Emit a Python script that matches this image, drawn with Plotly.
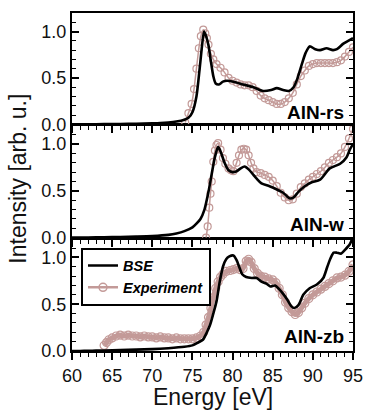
import plotly.graph_objects as go

# ---------------- data ----------------
# AlN-rs (top panel)
E_bse_rs = [60, 62, 64, 66, 68, 70, 71, 72, 73, 74,
            74.5, 75, 75.5, 75.9, 76.2, 76.45, 76.7, 77.0, 77.3, 77.6,
            77.9, 78.3, 78.8, 79.3, 80.1, 81.3, 82.6, 83.8, 84.8, 85.5,
            86.3, 87.0, 87.6, 88.1, 88.6, 89.1, 89.6, 90.3, 90.9, 91.7,
            92.5, 93.0, 93.8, 94.4, 95]
I_bse_rs = [0.0, 0.001, 0.002, 0.004, 0.007, 0.011, 0.014, 0.02, 0.03, 0.05,
            0.07, 0.13, 0.3, 0.6, 0.85, 1.0, 0.95, 0.85, 0.68, 0.52,
            0.44, 0.43, 0.46, 0.47, 0.46, 0.43, 0.40, 0.36, 0.37, 0.39,
            0.37, 0.36, 0.40, 0.50, 0.64, 0.77, 0.84, 0.81, 0.80, 0.82,
            0.80, 0.81, 0.87, 0.90, 0.93]
E_exp_rs = [74.1, 74.5, 74.9, 75.2, 75.5, 75.8, 76.05, 76.35, 76.6, 76.8,
            77.0, 77.3, 77.6, 78.0, 78.5, 79.0, 79.5, 80.0, 80.5, 81.0,
            81.5, 82.0, 82.5, 83.0, 83.5, 84.0, 84.5, 85.0, 85.5, 86.0,
            86.5, 87.0, 87.5, 88.0, 88.5, 89.0, 89.5, 90.0, 90.5, 91.0,
            91.5, 92.0, 92.5, 93.0, 93.5, 94.0, 94.5, 95.0]
I_exp_rs = [0.02, 0.12, 0.22, 0.38, 0.6, 0.82, 0.95, 1.02, 0.98, 0.93,
            0.86, 0.76, 0.70, 0.65, 0.61, 0.56, 0.50, 0.47, 0.45, 0.43,
            0.42, 0.42, 0.40, 0.36, 0.31, 0.28, 0.26, 0.24, 0.22, 0.22,
            0.24, 0.28, 0.34, 0.43, 0.52, 0.58, 0.63, 0.65, 0.66, 0.66,
            0.66, 0.66, 0.66, 0.67, 0.69, 0.73, 0.78, 0.83]

# AlN-w (middle panel)
E_bse_w = [60, 62, 64, 66, 68, 70, 72, 73, 74, 75,
           75.5, 76, 76.5, 77, 77.4, 77.8, 78.2, 78.6, 79.0, 79.5,
           80.0, 80.5, 81.0, 81.5, 82.0, 82.6, 83.0, 83.6, 84.6, 85.4,
           86.3, 87.1, 87.6, 88.2, 89.0, 89.8, 90.9, 92.1, 93.4, 94.2,
           94.6, 95]
I_bse_w = [0.0, 0.002, 0.004, 0.007, 0.011, 0.017, 0.03, 0.045, 0.07, 0.11,
           0.15, 0.2, 0.3, 0.49, 0.68, 0.86, 0.97, 0.90, 0.80, 0.72,
           0.70, 0.71, 0.74, 0.76, 0.73, 0.67, 0.63, 0.58, 0.55, 0.52,
           0.48, 0.42, 0.43, 0.49, 0.55, 0.59, 0.62, 0.74, 0.79, 0.86,
           0.94, 1.0]
E_exp_w = [76.7, 76.9, 77.1, 77.25, 77.4, 77.6, 77.8, 78.0, 78.2, 78.5,
           78.8, 79.1, 79.5, 79.8, 80.1, 80.5, 80.8, 81.1, 81.4, 81.7,
           82.0, 82.3, 82.6, 83.0, 83.5, 84.0, 84.5, 85.0, 85.5, 86.0,
           86.5, 87.0, 87.5, 88.0, 88.5, 89.0, 89.5, 90.0, 90.5, 91.0,
           91.5, 92.0, 92.5, 93.0, 93.5, 94.0, 94.5, 95.0]
I_exp_w = [0.0, 0.12, 0.32, 0.47, 0.6, 0.81, 0.93, 0.99, 1.01, 0.94,
           0.85, 0.79, 0.74, 0.72, 0.71, 0.80, 0.88, 0.94, 0.95, 0.94,
           0.88, 0.80, 0.74, 0.70, 0.69, 0.67, 0.65, 0.61, 0.55, 0.48,
           0.43, 0.40, 0.41, 0.47, 0.54, 0.58, 0.62, 0.65, 0.68, 0.71,
           0.75, 0.80, 0.83, 0.86, 0.90, 0.97, 1.06, 1.16]

# AlN-zb (bottom panel)
E_bse_zb = [60, 61, 62, 63, 64, 66, 68, 70, 72, 74,
            75, 75.7, 76.3, 76.8, 77.2, 77.6, 78.0, 78.4, 78.8, 79.2,
            79.6, 80.1, 80.5, 80.9, 81.2, 81.7, 82.4, 83.0, 83.6, 84.2,
            84.7, 85.3, 85.8, 86.3, 86.8, 87.3, 87.7, 88.2, 88.8, 89.6,
            90.5, 91.3, 91.8, 92.2, 92.6, 93.0, 93.5, 94.0, 94.6, 95.0]
I_bse_zb = [0.0, 0.0, 0.002, 0.004, 0.006, 0.01, 0.015, 0.02, 0.03, 0.045,
            0.06, 0.09, 0.12, 0.2, 0.28, 0.4, 0.53, 0.74, 0.9, 0.98,
            1.01, 1.02, 0.97, 0.88, 0.82, 0.79, 0.78, 0.78, 0.74, 0.72,
            0.69, 0.70, 0.66, 0.61, 0.55, 0.48, 0.46, 0.49, 0.60, 0.67,
            0.71, 0.78, 0.9, 0.99, 1.05, 1.05, 1.04, 1.08, 1.14, 1.22]
E_exp_zb = [64.0, 64.3, 64.6, 65.0, 65.5, 66.0, 66.5, 67.0, 67.5, 68.0,
            68.5, 69.0, 69.5, 70.0, 70.5, 71.0, 71.5, 72.0, 72.5, 73.0,
            73.5, 74.0, 74.5, 75.0, 75.5, 76.0, 76.4, 76.7, 77.0, 77.3,
            77.6, 77.9, 78.2, 78.5, 78.8, 79.2, 79.7, 80.1, 80.5, 80.9,
            81.3, 81.7, 82.0, 82.3, 82.7, 83.1, 83.5, 84.0, 84.5, 85.0,
            85.4, 85.8, 86.2, 86.6, 87.0, 87.4, 87.8, 88.2, 88.6, 89.0,
            89.5, 90.0, 90.5, 91.0, 91.5, 92.0, 92.5, 93.0, 93.5, 94.0,
            94.5, 95.0]
I_exp_zb = [0.06, 0.09, 0.12, 0.14, 0.16, 0.17, 0.16, 0.17, 0.16, 0.16,
            0.15, 0.16, 0.15, 0.15, 0.14, 0.15, 0.14, 0.14, 0.13, 0.14,
            0.13, 0.13, 0.13, 0.13, 0.14, 0.16, 0.2, 0.28, 0.36, 0.46,
            0.57, 0.67, 0.74, 0.79, 0.82, 0.85, 0.86, 0.87, 0.88, 0.87,
            0.88, 0.96, 0.98, 0.95, 0.88, 0.83, 0.80, 0.79, 0.77, 0.76,
            0.73, 0.67, 0.60, 0.52, 0.46, 0.42, 0.39, 0.41, 0.46, 0.51,
            0.56, 0.60, 0.63, 0.66, 0.69, 0.72, 0.75, 0.78, 0.79, 0.81,
            0.85, 0.92]

panel_labels = ["AlN-rs", "AlN-w", "AlN-zb"]
series_names = ["BSE", "Experiment"]
x_ticks = [60, 65, 70, 75, 80, 85, 90, 95]
y_ticks = [0.0, 0.5, 1.0]

# ---------------- styling ----------------
FONT = "Arial, Liberation Sans, sans-serif"
EXP_COLOR = "#c39a98"

fig = go.Figure()

panels = [
    # (E_bse, I_bse, E_exp, I_exp, xaxis, yaxis, dense)
    (E_bse_zb, I_bse_zb, E_exp_zb, I_exp_zb, "x", "y", True),
    (E_bse_w, I_bse_w, E_exp_w, I_exp_w, "x2", "y2", False),
    (E_bse_rs, I_bse_rs, E_exp_rs, I_exp_rs, "x3", "y3", False),
]

for i, (eb, ib, ee, ie, xa, ya, dense) in enumerate(panels):
    fig.add_trace(go.Scatter(
        x=ee, y=ie, xaxis=xa, yaxis=ya, mode="lines+markers",
        name=series_names[1], showlegend=False,
        line=dict(color=EXP_COLOR, width=5 if dense else 1.5,
                  shape="spline", smoothing=0.5),
        marker=dict(symbol="circle-open", size=8 if dense else 7,
                    color=EXP_COLOR, line=dict(width=1.2, color=EXP_COLOR)),
    ))
    fig.add_trace(go.Scatter(
        x=eb, y=ib, xaxis=xa, yaxis=ya, mode="lines",
        name=series_names[0], showlegend=(i == 0), legendrank=1,
        line=dict(color="black", width=2.6, shape="spline", smoothing=0.7),
    ))

# legend-only entry for the experiment (thin line with open circles)
fig.add_trace(go.Scatter(
    x=[None], y=[None], xaxis="x", yaxis="y", mode="lines+markers",
    name=series_names[1], showlegend=True, legendrank=2,
    line=dict(color=EXP_COLOR, width=2.5),
    marker=dict(symbol="circle-open", size=8, color=EXP_COLOR,
                line=dict(width=1.5, color=EXP_COLOR)),
))

xcommon = dict(range=[60, 95], tickvals=x_ticks, ticks="outside", ticklen=7,
               tickwidth=1.5, tickcolor="black",
               minor=dict(dtick=1, tick0=60, ticks="outside", ticklen=4,
                          tickwidth=1.2, tickcolor="black"),
               showline=True, linewidth=2, linecolor="black", mirror=True,
               showgrid=False, zeroline=False,
               tickfont=dict(family=FONT, size=18, color="#111"))
ycommon = dict(range=[0, 1.2], tickvals=y_ticks, tickformat=".1f",
               ticks="inside", ticklen=7, tickwidth=1.5, tickcolor="black",
               minor=dict(dtick=0.1, tick0=0, ticks="inside", ticklen=4,
                          tickwidth=1.2, tickcolor="black"),
               showline=True, linewidth=2, linecolor="black", mirror="ticks",
               showgrid=False, zeroline=False,
               tickfont=dict(family=FONT, size=18, color="#111"))

d3 = [0.0, 0.3324]
d2 = [0.3353, 0.6676]
d1 = [0.6706, 1.0]

fig.update_layout(
    width=374, height=416,
    margin=dict(l=72, r=21, t=11, b=65),
    paper_bgcolor="white", plot_bgcolor="white",
    font=dict(family=FONT, color="black"),
    xaxis=dict(**xcommon, anchor="y", domain=[0, 1], showticklabels=True),
    xaxis2=dict(**xcommon, anchor="y2", domain=[0, 1], showticklabels=False,
                matches="x"),
    xaxis3=dict(**xcommon, anchor="y3", domain=[0, 1], showticklabels=False,
                matches="x"),
    yaxis=dict(**ycommon, anchor="x", domain=d3),
    yaxis2=dict(**ycommon, anchor="x2", domain=d2),
    yaxis3=dict(**ycommon, anchor="x3", domain=d1),
    showlegend=True,
    legend=dict(x=0.032, y=0.306, xanchor="left", yanchor="top",
                bgcolor="white", bordercolor="black", borderwidth=2,
                font=dict(family=FONT, size=14.5, weight="bold", style="italic",
                          color="black"),
                itemwidth=30, tracegroupgap=0, traceorder="normal"),
)

# panel labels
for lbl, xr, yr, yy in [(panel_labels[0], "x3 domain", "y3 domain", 0.11),
                        (panel_labels[1], "x2 domain", "y2 domain", 0.12),
                        (panel_labels[2], "x domain", "y domain", 0.125)]:
    fig.add_annotation(text="<b>" + lbl + "</b>", xref=xr, yref=yr,
                       x=0.975, y=yy, xanchor="right", yanchor="middle",
                       showarrow=False,
                       font=dict(family=FONT, size=19, color="black"))

# axis titles
fig.add_annotation(text="Energy [eV]", xref="paper", yref="paper",
                   x=0.5, y=-0.135, xanchor="center", yanchor="middle",
                   showarrow=False, font=dict(family=FONT, size=23, color="#111"))
fig.add_annotation(text="Intensity [arb. u.]", xref="paper", yref="paper",
                   x=-0.192, y=0.51, xanchor="center", yanchor="middle",
                   textangle=-90, showarrow=False,
                   font=dict(family=FONT, size=23, color="#111"))

fig.write_html("out.html",
               config={"displayModeBar": False},
               post_script="document.body.style.margin='0';"
                           "document.body.style.overflow='hidden';")
